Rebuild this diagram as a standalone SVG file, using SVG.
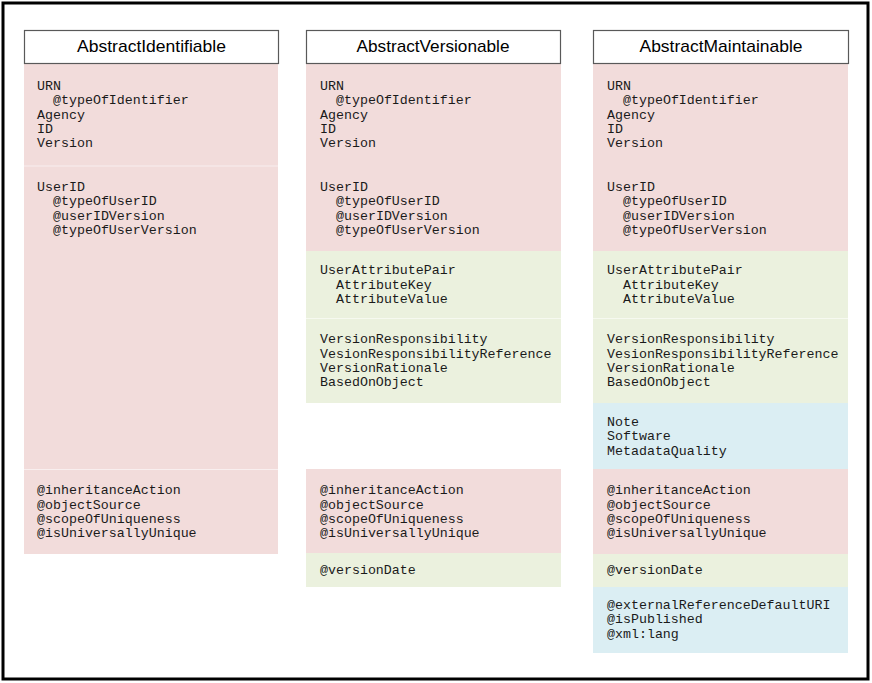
<svg xmlns="http://www.w3.org/2000/svg" width="872" height="683" viewBox="0 0 872 683">
<style>
.frame{fill:#fff;stroke:#000;stroke-width:3}
.hdr{fill:#fff;stroke:#595959;stroke-width:1.2}
.ht{font-family:"Liberation Sans",Arial,sans-serif;font-size:17px;fill:#000;text-anchor:middle}
.pk{fill:#F2DCDB}
.gr{fill:#EBF1DE}
.bl{fill:#DBEEF3}
.dv{stroke:#fff;stroke-opacity:0.55;stroke-width:1}
.t{font-family:"Liberation Mono","Courier New",monospace;font-size:13.3px;fill:#1a1a1a}
</style>
<rect class="frame" x="3" y="3" width="865" height="676"/>

<g id="abstractIdentifiable">
<rect class="pk" x="24" y="63" width="254" height="491"/>
<line class="dv" x1="24" y1="166" x2="278" y2="166"/>
<line class="dv" x1="24" y1="469.5" x2="278" y2="469.5"/>
<rect class="hdr" x="24.5" y="30.5" width="254" height="33"/>
<text class="ht" x="151.5" y="52" textLength="149" lengthAdjust="spacingAndGlyphs">AbstractIdentifiable</text>
<text class="t">
<tspan x="37" y="90">URN</tspan>
<tspan x="53" y="104.3">@typeOfIdentifier</tspan>
<tspan x="37" y="118.6">Agency</tspan>
<tspan x="37" y="132.9">ID</tspan>
<tspan x="37" y="147.2">Version</tspan>
<tspan x="37" y="191">UserID</tspan>
<tspan x="53" y="205.3">@typeOfUserID</tspan>
<tspan x="53" y="219.6">@userIDVersion</tspan>
<tspan x="53" y="233.9">@typeOfUserVersion</tspan>
<tspan x="37" y="494.3">@inheritanceAction</tspan>
<tspan x="37" y="508.6">@objectSource</tspan>
<tspan x="37" y="522.9">@scopeOfUniqueness</tspan>
<tspan x="37" y="537.2">@isUniversallyUnique</tspan>
</text>
</g>

<g id="abstractVersionable">
<rect class="pk" x="306" y="63" width="255" height="188"/>
<rect class="gr" x="306" y="251" width="255" height="152"/>
<line class="dv" x1="306" y1="318.5" x2="561" y2="318.5"/>
<rect class="pk" x="306" y="469" width="255" height="84"/>
<rect class="gr" x="306" y="553" width="255" height="34"/>
<rect class="hdr" x="306.5" y="30.5" width="254" height="33"/>
<text class="ht" x="433" y="52" textLength="153" lengthAdjust="spacingAndGlyphs">AbstractVersionable</text>
<text class="t">
<tspan x="320" y="90">URN</tspan>
<tspan x="336" y="104.3">@typeOfIdentifier</tspan>
<tspan x="320" y="118.6">Agency</tspan>
<tspan x="320" y="132.9">ID</tspan>
<tspan x="320" y="147.2">Version</tspan>
<tspan x="320" y="191">UserID</tspan>
<tspan x="336" y="205.3">@typeOfUserID</tspan>
<tspan x="336" y="219.6">@userIDVersion</tspan>
<tspan x="336" y="233.9">@typeOfUserVersion</tspan>
<tspan x="320" y="274.3">UserAttributePair</tspan>
<tspan x="336" y="288.6">AttributeKey</tspan>
<tspan x="336" y="302.9">AttributeValue</tspan>
<tspan x="320" y="343.3">VersionResponsibility</tspan>
<tspan x="320" y="357.6">VesionResponsibilityReference</tspan>
<tspan x="320" y="371.9">VersionRationale</tspan>
<tspan x="320" y="386.2">BasedOnObject</tspan>
<tspan x="320" y="494.3">@inheritanceAction</tspan>
<tspan x="320" y="508.6">@objectSource</tspan>
<tspan x="320" y="522.9">@scopeOfUniqueness</tspan>
<tspan x="320" y="537.2">@isUniversallyUnique</tspan>
<tspan x="320" y="574">@versionDate</tspan>
</text>
</g>

<g id="abstractMaintainable">
<rect class="pk" x="593" y="63" width="255" height="188"/>
<rect class="gr" x="593" y="251" width="255" height="152"/>
<line class="dv" x1="593" y1="318.5" x2="848" y2="318.5"/>
<rect class="bl" x="593" y="403" width="255" height="66"/>
<rect class="pk" x="593" y="469" width="255" height="85"/>
<rect class="gr" x="593" y="554" width="255" height="33"/>
<rect class="bl" x="593" y="587" width="255" height="66"/>
<rect class="hdr" x="593.5" y="30.5" width="255" height="33"/>
<text class="ht" x="721" y="52" textLength="163" lengthAdjust="spacingAndGlyphs">AbstractMaintainable</text>
<text class="t">
<tspan x="607" y="90">URN</tspan>
<tspan x="623" y="104.3">@typeOfIdentifier</tspan>
<tspan x="607" y="118.6">Agency</tspan>
<tspan x="607" y="132.9">ID</tspan>
<tspan x="607" y="147.2">Version</tspan>
<tspan x="607" y="191">UserID</tspan>
<tspan x="623" y="205.3">@typeOfUserID</tspan>
<tspan x="623" y="219.6">@userIDVersion</tspan>
<tspan x="623" y="233.9">@typeOfUserVersion</tspan>
<tspan x="607" y="274.3">UserAttributePair</tspan>
<tspan x="623" y="288.6">AttributeKey</tspan>
<tspan x="623" y="302.9">AttributeValue</tspan>
<tspan x="607" y="343.3">VersionResponsibility</tspan>
<tspan x="607" y="357.6">VesionResponsibilityReference</tspan>
<tspan x="607" y="371.9">VersionRationale</tspan>
<tspan x="607" y="386.2">BasedOnObject</tspan>
<tspan x="607" y="426">Note</tspan>
<tspan x="607" y="440.3">Software</tspan>
<tspan x="607" y="454.6">MetadataQuality</tspan>
<tspan x="607" y="494.3">@inheritanceAction</tspan>
<tspan x="607" y="508.6">@objectSource</tspan>
<tspan x="607" y="522.9">@scopeOfUniqueness</tspan>
<tspan x="607" y="537.2">@isUniversallyUnique</tspan>
<tspan x="607" y="574">@versionDate</tspan>
<tspan x="607" y="609">@externalReferenceDefaultURI</tspan>
<tspan x="607" y="623.3">@isPublished</tspan>
<tspan x="607" y="637.6">@xml:lang</tspan>
</text>
</g>

<g id="connectors"/>
</svg>
